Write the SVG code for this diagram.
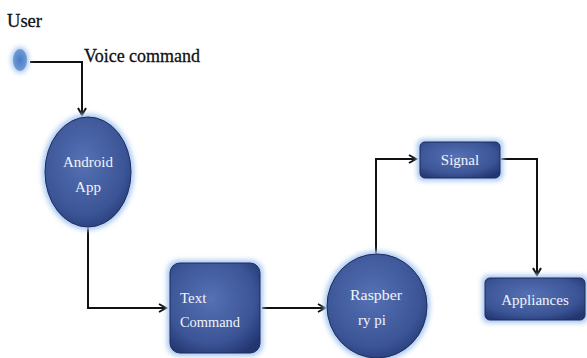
<svg xmlns="http://www.w3.org/2000/svg" width="587" height="358" viewBox="0 0 587 358">
<defs>
<radialGradient id="gNode" cx="0.45" cy="0.4" r="0.7">
<stop offset="0" stop-color="#5572b4"/>
<stop offset="0.7" stop-color="#3b5496"/>
<stop offset="1" stop-color="#233670"/>
</radialGradient>
<radialGradient id="gDot" cx="0.5" cy="0.5" r="0.5">
<stop offset="0" stop-color="#4a7cc4"/>
<stop offset="1" stop-color="#6f9ad6"/>
</radialGradient>
<filter id="glow" x="-30%" y="-30%" width="160%" height="160%">
<feGaussianBlur stdDeviation="2.5"/>
</filter>
<marker id="arr" markerWidth="10" markerHeight="10" refX="8" refY="5" orient="auto" markerUnits="userSpaceOnUse">
<path d="M1,1 L8,5 L1,9" fill="none" stroke="#111" stroke-width="2"/>
</marker>
<style>
.glow{fill:#a8c8f0;filter:url(#glow);}
.node{fill:url(#gNode);stroke:#1d2d5e;stroke-width:1;}
.lbl{font-family:"Liberation Serif","DejaVu Serif",serif;font-size:15px;fill:#f2f4fa;}
.blk{font-family:"Liberation Serif","DejaVu Serif",serif;font-size:19px;fill:#111;stroke:#111;stroke-width:0.3;}
.conn{fill:none;stroke:#111;stroke-width:2;}
</style>
</defs>
<rect width="587" height="358" fill="#ffffff"/>
<g id="connectors">
<path class="conn" d="M30,62 H82 V115" marker-end="url(#arr)"/>
<path class="conn" d="M88,228 V308 H166" marker-end="url(#arr)"/>
<path class="conn" d="M262,308 H325" marker-end="url(#arr)"/>
<path class="conn" d="M376,254 V159 H416" marker-end="url(#arr)"/>
<path class="conn" d="M501,159 H537 V275" marker-end="url(#arr)"/>
</g>
<g id="user">
<ellipse class="glow" cx="20" cy="60" rx="9" ry="13"/>
<ellipse cx="20" cy="60" rx="7" ry="11" fill="url(#gDot)"/>
<text class="blk" x="7" y="27" textLength="35" lengthAdjust="spacingAndGlyphs">User</text>
</g>
<text class="blk" x="84" y="62" textLength="116" lengthAdjust="spacingAndGlyphs">Voice command</text>
<g id="android">
<ellipse class="glow" cx="88" cy="172" rx="46" ry="58"/>
<ellipse class="node" cx="88" cy="172" rx="43" ry="55"/>
<text class="lbl" x="88" y="167" text-anchor="middle" textLength="50" lengthAdjust="spacingAndGlyphs">Android</text>
<text class="lbl" x="88" y="192" text-anchor="middle">App</text>
</g>
<g id="textcommand">
<rect class="glow" x="167" y="260" width="96" height="96" rx="12"/>
<rect class="node" x="170" y="263" width="90" height="90" rx="10"/>
<text class="lbl" x="180" y="303">Text</text>
<text class="lbl" x="180" y="327" textLength="60" lengthAdjust="spacingAndGlyphs">Command</text>
</g>
<g id="raspberry">
<ellipse class="glow" cx="377" cy="306" rx="53" ry="55"/>
<ellipse class="node" cx="377" cy="306" rx="50" ry="52"/>
<text class="lbl" x="376" y="300" text-anchor="middle" textLength="52" lengthAdjust="spacingAndGlyphs">Raspber</text>
<text class="lbl" x="372" y="325" text-anchor="middle">ry pi</text>
</g>
<g id="signal">
<rect class="glow" x="417" y="139" width="86" height="42" rx="6"/>
<rect class="node" x="420" y="142" width="80" height="36" rx="5"/>
<text class="lbl" x="460" y="165" text-anchor="middle">Signal</text>
</g>
<g id="appliances">
<rect class="glow" x="482" y="275" width="106" height="48" rx="6"/>
<rect class="node" x="485" y="278" width="100" height="42" rx="5"/>
<text class="lbl" x="535" y="305" text-anchor="middle">Appliances</text>
</g>
</svg>
